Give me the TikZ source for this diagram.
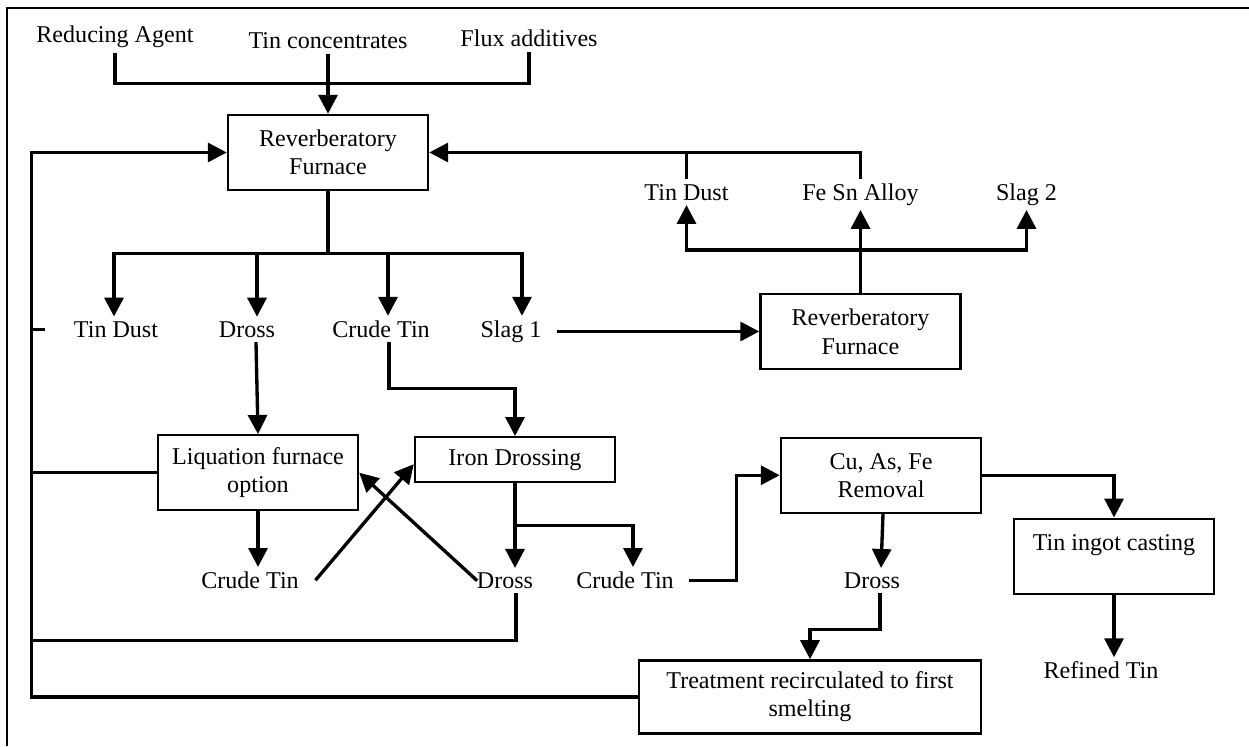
\documentclass[tikz,border=0pt]{standalone}
\usepackage{fontspec}
\setmainfont{Liberation Serif}
\usetikzlibrary{positioning}
\usetikzlibrary{arrows.meta}

\begin{document}
\begin{tikzpicture}[every node/.style={font=\fontsize{13.7}{16}\selectfont},
                    box/.style={rectangle, draw, line width=1.4pt, minimum width=4cm, minimum height=1.5cm, inner sep=1mm, align=center},
                    lab/.style={rectangle, inner sep=2.5pt},
                    ln/.style={line width=1.9pt},
                    arr/.style={line width=1.9pt, -{Triangle[width=3.8mm, length=3.8mm]}}]
\useasboundingbox (0,0) rectangle (24.98,-14.92);
\draw [line width=1pt] (0.14,-14.92) -- (0.14,-0.16) -- (24.98,-0.16);
\node (rf1) [box] at (6.56,-3.05) {Reverberatory\\Furnace};
\node (tc) [lab, above=1.3cm of rf1.north, anchor=base] {Tin concentrates};
\node (ra) [lab, above left=1.2mm and 42.6mm of tc.base, anchor=base] {Reducing Agent};
\node (fa) [lab, above right=0.4mm and 40.2mm of tc.base, anchor=base] {Flux additives};
\coordinate [below=7mm of tc.base] (mix);
\coordinate [left=3.9cm of rf1.west] (loop);
\coordinate [below=1.24cm of rf1.south] (sp1);
\node (td1) [lab, below left=2.92cm and 4.24cm of rf1.south, anchor=base] {Tin Dust};
\node (dr1) [lab, right=2.62cm of td1.base, anchor=base] {Dross};
\node (ct1) [lab, right=2.68cm of dr1.base, anchor=base] {Crude Tin};
\node (sl1) [lab, right=2.6cm of ct1.base, anchor=base] {Slag 1};
\node (rf2) [box, above right=1.1mm and 69.9mm of sl1.base, anchor=center] {Reverberatory\\Furnace};
\node (fs) [lab, above=1.86cm of rf2.north, anchor=base] {Fe Sn Alloy};
\node (td2) [lab, left=3.48cm of fs.base, anchor=base] {Tin Dust};
\node (sl2) [lab, right=3.32cm of fs.base, anchor=base] {Slag 2};
\coordinate [above=0.86cm of rf2.north] (sp2);
\node (lq) [box, below right=2.71cm and 0.22cm of dr1.base, anchor=center] {Liquation furnace\\option};
\node (id) [box, minimum height=0.9cm, above right=0.26cm and 5.14cm of lq.center, anchor=center] {Iron Drossing};
\node (ct2) [lab, below left=1.54cm and 0.16cm of lq.south, anchor=base] {Crude Tin};
\node (dr2) [lab, right=5.1cm of ct2.base, anchor=base] {Dross};
\node (ct3) [lab, right=2.4cm of dr2.base, anchor=base] {Crude Tin};
\coordinate [below=9.4mm of dr2.south] (dd);
\node (cu) [box, below right=0.31cm and 7.32cm of id.center, anchor=center] {Cu, As, Fe\\Removal};
\node (ti) [box, below right=1.62cm and 4.66cm of cu.center, anchor=center] {Tin ingot casting\\\mbox{}};
\node (dr3) [lab, right=4.94cm of ct3.base, anchor=base] {Dross};
\node (tr) [box, minimum width=6.84cm, minimum height=1.46cm, below left=2.17cm and 1.24cm of dr3.base, anchor=center] {Treatment recirculated to first\\smelting};
\node (rt) [lab, below left=1.68cm and 0.26cm of ti.south, anchor=base] {Refined Tin};
\draw [ln] (ra.south) |- (mix) -| (fa.south);
\draw [arr] (tc.south) -- (rf1.north);
\draw [ln] (rf1.south) -- (sp1);
\draw [arr] (sp1) -| ([xshift=-0.4mm]td1.north);
\draw [arr] (sp1) -| ([xshift=2mm]dr1.north);
\draw [arr] (sp1) -| ([xshift=1.4mm]ct1.north);
\draw [arr] (sp1) -| ([xshift=2.2mm]sl1.north);
\draw [ln] (td1.west -| loop) -- ([xshift=-4.9mm]td1.west);
\draw [arr] ([xshift=2.2mm]sl1.east) -- (sl1.east -| rf2.west);
\draw [arr] (rf2.north) -- (fs.south);
\draw [arr] (sp2) -| (td2.south);
\draw [arr] (sp2) -| (sl2.south);
\draw [arr] (fs.north) |- (rf1.east);
\draw [ln] (td2.north) -- (td2.north |- rf1.east);
\draw [arr] ([xshift=1.8mm]dr1.south) -- (lq.north);
\draw [arr] ([xshift=1.6mm]ct1.south) -- ++(0,-0.92) -| (id.north);
\draw [ln] (lq.west) -- (lq.west -| loop);
\draw [arr] (lq.south) -- (lq.south |- ct2.north);
\draw [arr] ([xshift=2.4mm]ct2.east) -- ([yshift=-0.9mm]id.west);
\draw [arr] ([xshift=1mm]dr2.west) -- (lq.east);
\draw [arr] (id.south) -- (id.south |- dr2.north);
\draw [arr] ([yshift=-8.4mm]id.south) -| ([xshift=1.6mm]ct3.north);
\draw [ln] ([xshift=2.2mm]dr2.south) |- (dd -| loop);
\draw [arr] ([xshift=2.2mm]ct3.east) -- ++(0.94,0) |- (cu.west);
\draw [arr] (cu.east) -| (ti.north);
\draw [arr] ([xshift=0.4mm]cu.south) -- ([xshift=1.8mm]dr3.north);
\draw [arr] ([xshift=1.6mm]dr3.south) -- ++(0,-0.72) -| (tr.north);
\draw [arr] (ti.south) -- (ti.south |- rt.north);
\draw [arr] (tr.west) -- (tr.west -| loop) -- (loop) -- (rf1.west);
\end{tikzpicture}
\end{document}
